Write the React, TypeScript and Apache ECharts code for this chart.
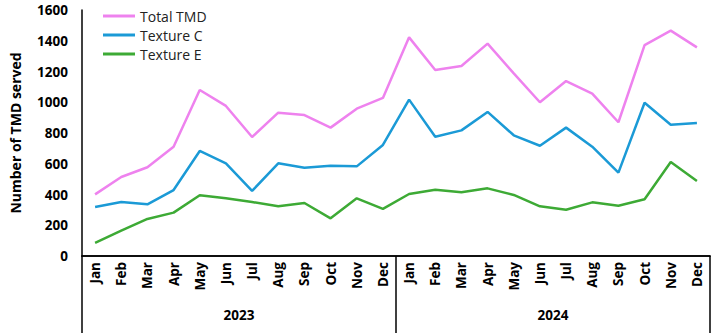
import React, { useEffect, useRef } from "react";
import * as echarts from "echarts";

const months = ["Jan","Feb","Mar","Apr","May","Jun","Jul","Aug","Sep","Oct","Nov","Dec","Jan","Feb","Mar","Apr","May","Jun","Jul","Aug","Sep","Oct","Nov","Dec"];
const years = ["2023", "2024"];
const totalTMD = [401,514,577,711,1080,976,774,932,917,835,958,1028,1422,1210,1236,1381,1188,1000,1138,1056,870,1372,1466,1357];
const textureC = [319,351,336,429,683,603,423,603,574,587,583,722,1017,776,817,937,785,717,835,711,542,997,854,865];
const textureE = [85,165,241,282,395,375,351,323,345,245,375,306,403,431,414,440,397,323,301,349,327,369,611,488];
const yTicks = { min: 0, max: 1600, interval: 200 };

const FONT = "'Open Sans', 'Noto Sans', sans-serif";

export default function App() {
  const ref = useRef<HTMLDivElement>(null);
  useEffect(() => {
    document.body.style.margin = "0";
    const chart = echarts.init(ref.current!, null, { renderer: "svg" });
    const mk = (name: string, data: number[], color: string) => ({
      name, type: "line", data, showSymbol: false, symbol: "none",
      lineStyle: { color, width: 2.5 }, itemStyle: { color }, xAxisIndex: 0,
    });
    chart.setOption({
      animation: false,
      grid: { left: 80, right: 6, top: 10, bottom: 77 },
      legend: {
        left: 98, top: 4, orient: "vertical", icon: "rect", itemWidth: 32, itemHeight: 3,
        itemGap: 5,
        textStyle: { fontFamily: FONT, fontSize: 14, color: "#222" },
        data: ["Total TMD", "Texture C", "Texture E"],
      },
      xAxis: [
        {
          type: "category", data: months, boundaryGap: true,
          axisLine: { lineStyle: { color: "#000", width: 1.5 } },
          axisTick: { show: false },
          axisLabel: { rotate: 90, interval: 0, fontFamily: FONT, fontWeight: "bold", fontSize: 13.5, color: "#000", margin: 6 },
        },
        {
          type: "category", data: years, boundaryGap: true, position: "bottom",
          axisLine: { show: true, lineStyle: { color: "#000", width: 1.5 } },
          axisTick: { show: true, length: 77, lineStyle: { color: "#000", width: 1.5 } },
          axisLabel: { interval: 0, fontFamily: FONT, fontWeight: "bold", fontSize: 13.5, color: "#000", margin: 52 },
        },
      ],
      yAxis: {
        type: "value", ...yTicks,
        name: "Number of TMD served", nameLocation: "middle", nameGap: 60,
        nameTextStyle: { fontFamily: FONT, fontWeight: "bold", fontSize: 14, color: "#000" },
        axisLine: { show: true, lineStyle: { color: "#000", width: 1.5 } },
        axisTick: { show: false },
        splitLine: { show: false },
        axisLabel: { fontFamily: FONT, fontWeight: "bold", fontSize: 13.5, color: "#000", margin: 14, formatter: (v: number) => String(v) },
      },
      series: [
        mk("Total TMD", totalTMD, "#EE82EE"),
        mk("Texture C", textureC, "#1B9AD6"),
        mk("Texture E", textureE, "#3DAA35"),
      ],
    });
    return () => chart.dispose();
  }, []);
  return <div ref={ref} style={{ width: 716, height: 333 }} />;
}
